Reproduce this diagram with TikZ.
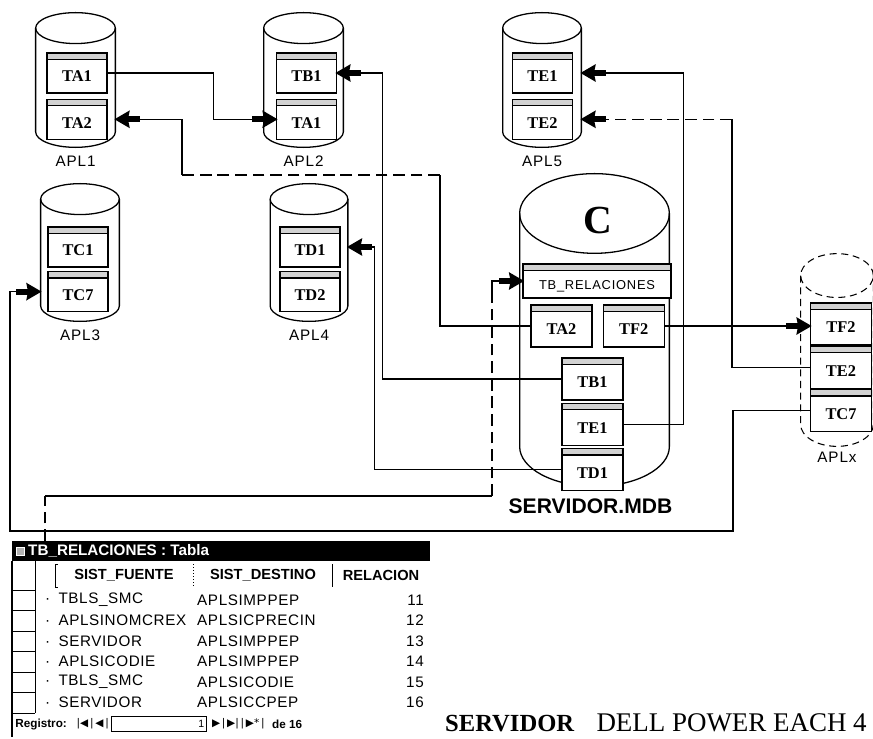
\documentclass[tikz,border=0pt]{standalone}
\usepackage{fontspec}
\setmainfont{Liberation Serif}
\setsansfont{Liberation Sans}
\newfontfamily\plotfont[LetterSpace=6.0]{Liberation Sans}
\newfontfamily\cellfont[LetterSpace=4.0]{Liberation Sans}
\newfontfamily\navfont{DejaVu Sans}
\usetikzlibrary{positioning, arrows.meta}

% cuerpo de cilindro: #1 ancho, #2 radio vertical, #3 estilo de linea
\newcommand{\cylbody}[3]{%
	\draw[line width=1.1pt, #3]
		([xshift=0.55pt, yshift=-#2-0.55pt]path picture bounding box.north west)
		-- ([xshift=0.55pt, yshift=#2+0.55pt]path picture bounding box.south west)
		arc[start angle=180, end angle=360, x radius=#1/2-0.55pt, y radius=#2]
		-- ([xshift=-0.55pt, yshift=-#2-0.55pt]path picture bounding box.north east);
	\draw[line width=1.1pt, #3] ([yshift=-#2-0.55pt]path picture bounding box.north) ellipse [x radius=#1/2-0.55pt, y radius=#2];
}

\tikzset{
	db/.style n args={4}{minimum width=#1, minimum height=#2, inner sep=0pt,
		path picture={\cylbody{#1}{#3}{#4}}},
	tbl/.style={draw, line width=1.1pt, fill=white, inner sep=1pt,
		minimum width=1.8cm, minimum height=1.2cm,
		font=\bfseries\fontsize{14}{14}\selectfont, text height=15.3pt, text depth=0pt,
		path picture={
			\fill[gray!35] (path picture bounding box.north west) rectangle ([yshift=-5pt]path picture bounding box.north east);
			\draw[line width=1.3pt] ([yshift=-5.5pt]path picture bounding box.north west) -- ([yshift=-5.5pt]path picture bounding box.north east);
		}},
	stbl/.style={tbl, minimum width=1.83cm, minimum height=1.26cm},
	lbl/.style={font=\plotfont\fontsize{13}{13}\selectfont, inner sep=1pt},
	link/.style={line width=1.2pt},
	dsh/.style={link, dash pattern=on 10pt off 5pt},
	feed/.style={-{Rectangle[length=10pt,width=5pt,sep=-1.5pt]Stealth[length=13pt,width=15pt,inset=1.5pt,sep=-1.5pt]}},
	cell/.style={font=\cellfont\fontsize{13}{13}\selectfont, inner sep=0pt},
	head/.style={font=\sffamily\bfseries\fontsize{12.5}{12.5}\selectfont, inner sep=0pt},
	nav/.style={font=\sffamily\bfseries\fontsize{10}{10}\selectfont, inner sep=1pt}
}

\begin{document}
\begin{tikzpicture}[x=0.03cm, y=-0.03cm]
	\path[use as bounding box] (0,0) rectangle (873,739);

	% aplicaciones
	\node[db={2.43cm}{4.08cm}{13.2pt}{solid}] (apl1) at (75.5,80) {};
	\node[tbl] (a1ta1) at (77,73) {TA1};
	\node[tbl] (a1ta2) [below=0.15cm of a1ta1] {TA2};
	\node[lbl] (l1) [below=0.2cm of apl1] {APL1};

	\node[db={2.43cm}{4.08cm}{13.2pt}{solid}] (apl2) at (303.5,80) {};
	\node[tbl] (a2tb1) at (306.5,73) {TB1};
	\node[tbl] (a2ta1) [below=0.15cm of a2tb1] {TA1};
	\node[lbl] (l2) [below=0.2cm of apl2] {APL2};

	\node[db={2.4cm}{4.08cm}{13.2pt}{solid}] (apl5) at (542,80) {};
	\node[tbl] (a5te1) at (542.5,73) {TE1};
	\node[tbl] (a5te2) [below=0.15cm of a5te1] {TE2};
	\node[lbl] (l5) [below=0.2cm of apl5] {APL5};

	\node[db={2.4cm}{4.17cm}{13.2pt}{solid}] (apl3) at (80,252.5) {};
	\node[tbl] (a3tc1) at (78,247) {TC1};
	\node[tbl] (a3tc7) [below=0.1cm of a3tc1] {TC7};
	\node[lbl] (l3) [below=0.2cm of apl3] {APL3};

	\node[db={2.37cm}{4.17cm}{13.2pt}{solid}] (apl4) at (309,252.5) {};
	\node[tbl] (a4td1) at (310,247) {TD1};
	\node[tbl] (a4td2) [below=0.1cm of a4td1] {TD2};
	\node[lbl] (l4) [below=0.2cm of apl4] {APL4};

	% servidor
	\node[db={4.53cm}{9.42cm}{34pt}{solid}] (srv) at (594.5,330) {};
	\node[font=\bfseries\fontsize{34}{34}\selectfont] (srvc) at (598,221) {C};
	\node[tbl, minimum width=4.44cm, minimum height=1.02cm, font=\plotfont\fontsize{11}{11}\selectfont, text height=13.9pt] (srel) at (597,281) {TB\_RELACIONES};
	\node[stbl] (sta2) at (561.5,326) {TA2};
	\node[stbl] (stf2) [right=0.3cm of sta2] {TF2};
	\node[stbl] (stb1) at (592.5,379) {TB1};
	\node[stbl] (ste1) [below=0.06cm of stb1] {TE1};
	\node[stbl] (std1) [below=0.06cm of ste1] {TD1};
	\node[font=\sffamily\bfseries\fontsize{18}{18}\selectfont, inner sep=1pt] (srvl) [below=0.3cm of srv, xshift=-0.12cm] {SERVIDOR.MDB};

	% aplicacion externa
	\node[db={2.22cm}{5.82cm}{18.7pt}{line width=0.9pt, dash pattern=on 6pt off 4pt}] (aplx) at (837,350) {};
	\node[stbl] (xtf2) at (841,324) {TF2};
	\node[stbl] (xte2) [below=0pt of xtf2] {TE2};
	\node[stbl] (xtc7) [below=0pt of xte2] {TC7};
	\node[lbl] (lx) [below=0.1cm of aplx] {APLx};

	% enlaces
	\coordinate (k3) at (733,531);
	\coordinate (k4) at (10,531);
	\coordinate (k5) at (440,175);
	\coordinate (k6) at (182,175);
	\draw[link, feed] (a1ta1.east) -- ++(106,0) |- (a2ta1.west);
	\draw[link] (sta2.west) -| (k5);
	\draw[dsh] (k5) -- (k6);
	\draw[link, feed] (k6) |- (a1ta2.east -| apl1.east);
	\draw[link, feed] (stb1.west) -- ++(-179,0) |- (a2tb1.east);
	\draw[link, feed] (std1.west) -- ++(-187,0) |- (a4td1.east -| apl4.east);
	\draw[link, feed] (ste1.east) -- ++(60,0) |- (a5te1.east -| apl5.east);
	\draw[link] (xte2.west) -- ++(-78,0) coordinate (k1) -- (k1 |- a5te2.east) coordinate (k2);
	\draw[dsh, feed] (k2) -- (a5te2.east -| apl5.east);
	\draw[link, feed] (stf2.east) -- (stf2.east -| xtf2.west);
	\draw[link, feed] (xtc7.west) -| (k3) -- (k4) |- (a3tc7.west -| apl3.west);

	% ventana de la tabla
	\node[anchor=north west, minimum width=12.54cm, minimum height=5.88cm, inner sep=0pt] (win) at (12,541) {};
	\node[anchor=north west, fill=black, minimum width=12.54cm, minimum height=0.6cm, inner sep=0pt] (bar) at (win.north west) {};
	\node[fill=gray!60, draw=white, minimum size=0.25cm, inner sep=0pt] (ico) at (20.5,551) {};
	\node[anchor=west, text=white, font=\sffamily\bfseries\fontsize{13}{13}\selectfont, inner sep=0pt] (ttl) at (28,551) {TB\_RELACIONES : Tabla};
	\draw[dsh] ([xshift=0.99cm]win.north west) -- ++(0,-45) coordinate (k7);
	\draw[link] (k7) -- ++(447,0) coordinate (k8);
	\draw[dsh] (k8) -- ++(0,-196) coordinate (k9);
	\draw[link, feed] (k9) |- (srel.west);

	\draw[line width=1pt] (bar.south west) -- (win.south west);
	\draw[line width=0.8pt] (35,561) -- (35,713);
	\draw[line width=0.8pt] (58,564) -- (55,564) -- (55,587) -- (58,587);
	\draw[line width=0.6pt, dotted] (193,564) -- (193,587);
	\draw[line width=0.8pt] (332,564) -- (332,587);
	\draw[line width=0.8pt] (12,590) -- (35,590) (12,610.5) -- (35,610.5) (12,631) -- (35,631)
		(12,651.5) -- (35,651.5) (12,672) -- (35,672) (12,692.5) -- (35,692.5) (12,713) -- (35,713);

	\node[head] (hf) at (124,575) {SIST\_FUENTE};
	\node[head] (hd) at (263,575) {SIST\_DESTINO};
	\node[head] (hr) at (381,575) {RELACION};

	\node[cell, anchor=west] (f1) at (45,600) {·\hspace{7pt}TBLS\_SMC};
	\node[cell, anchor=west] (d1) at (197,600) {APLSIMPPEP};
	\node[cell, anchor=east] (n1) at (424,600) {11};
	\node[cell, anchor=west] (f2) at (45,620.5) {·\hspace{7pt}APLSINOMCREX};
	\node[cell, anchor=west] (d2) at (197,620.5) {APLSICPRECIN};
	\node[cell, anchor=east] (n2) at (424,620.5) {12};
	\node[cell, anchor=west] (f3) at (45,641) {·\hspace{7pt}SERVIDOR};
	\node[cell, anchor=west] (d3) at (197,641) {APLSIMPPEP};
	\node[cell, anchor=east] (n3) at (424,641) {13};
	\node[cell, anchor=west] (f4) at (45,661.5) {·\hspace{7pt}APLSICODIE};
	\node[cell, anchor=west] (d4) at (197,661.5) {APLSIMPPEP};
	\node[cell, anchor=east] (n4) at (424,661.5) {14};
	\node[cell, anchor=west] (f5) at (45,682) {·\hspace{7pt}TBLS\_SMC};
	\node[cell, anchor=west] (d5) at (197,682) {APLSICODIE};
	\node[cell, anchor=east] (n5) at (424,682) {15};
	\node[cell, anchor=west] (f6) at (45,702.5) {·\hspace{7pt}SERVIDOR};
	\node[cell, anchor=west] (d6) at (197,702.5) {APLSICCPEP};
	\node[cell, anchor=east] (n6) at (424,702.5) {16};

	\node[nav, anchor=west] (reg) at (14,724) {Registro:};
	\node[nav, font=\navfont\fontsize{9}{9}\selectfont] (navl) [right=6pt of reg] {|◀\,|\,◀\,|};
	\node[draw, line width=0.6pt, minimum width=2.85cm, minimum height=0.45cm, inner sep=1pt, align=right, text width=2.7cm, font=\sffamily\fontsize{9}{9}\selectfont] (pos) [right=1pt of navl] {1};
	\node[nav, font=\navfont\fontsize{9}{9}\selectfont] (navr) [right=3pt of pos] {▶\,|\,▶|\,|\,▶*\,|};
	\node[nav] (cnt) [right=4pt of navr] {de 16};

	% pie
	\node[anchor=west, font=\fontsize{23}{23}\selectfont, inner sep=0pt] (hw) at (445,723) {{\fontsize{21}{21}\selectfont\bfseries SERVIDOR}\hspace{19pt}DELL POWER EACH 4};
\end{tikzpicture}
\end{document}
